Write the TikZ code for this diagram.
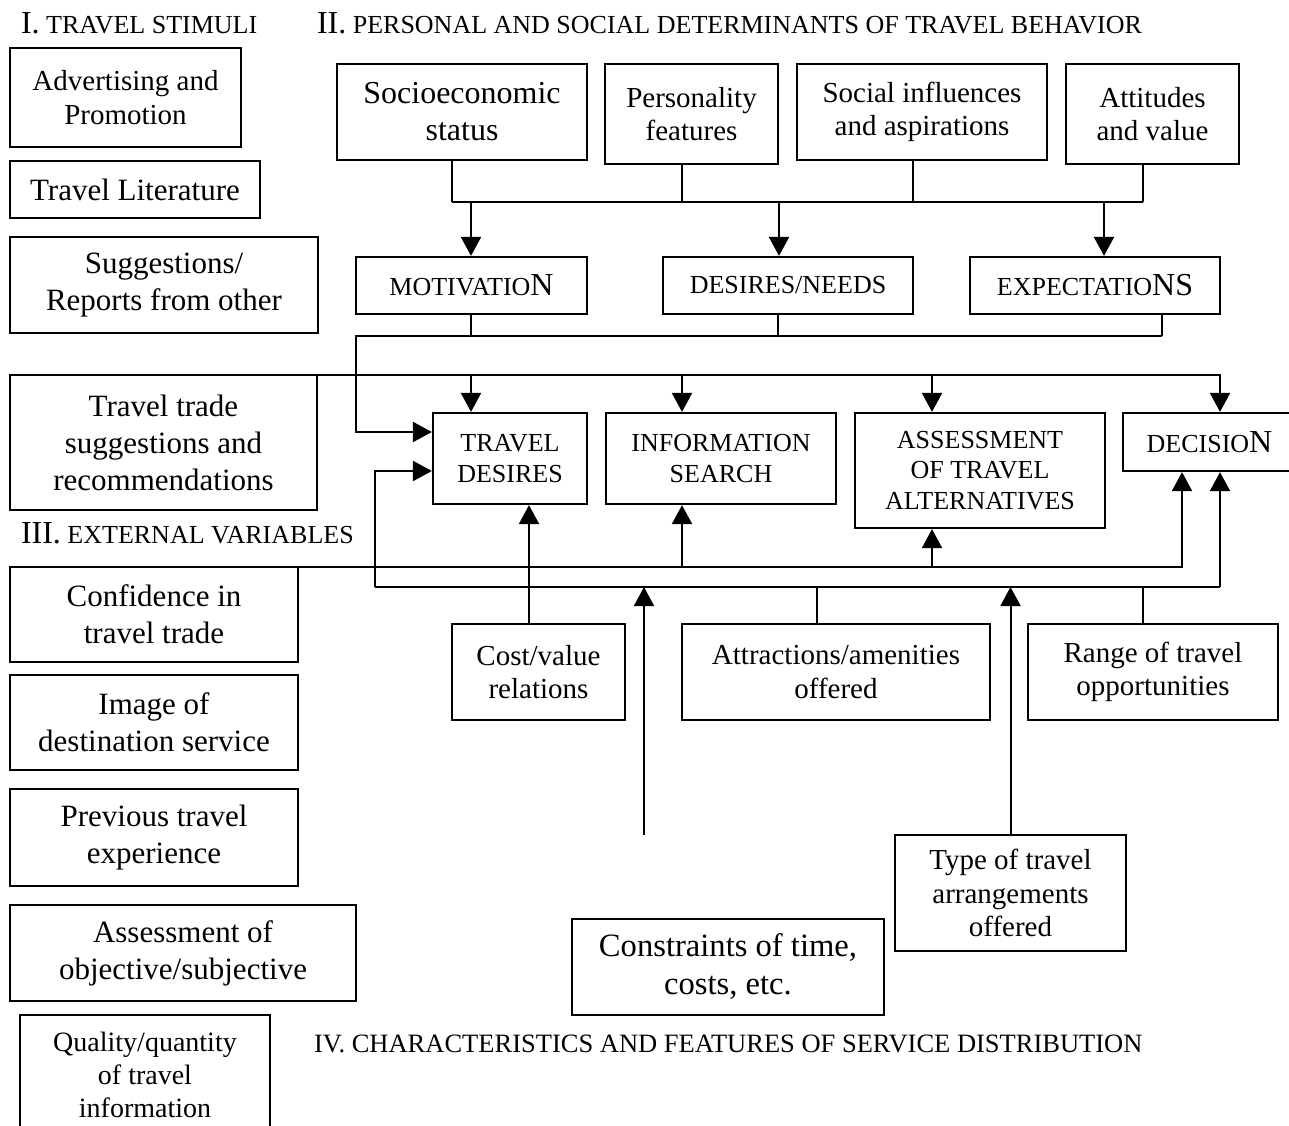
\documentclass[tikz,border=0pt]{standalone}
\usepackage{fontspec}
\setmainfont{Liberation Serif}
\usetikzlibrary{arrows.meta}
\newcommand\fsz[2]{\fontsize{#1}{#2}\selectfont}
\newcommand\capbig[1]{{\fsz{16}{18}#1}}
\tikzset{
  box/.style={draw,line width=1.1pt,align=center,inner sep=0pt},
  bigtxt/.style={font=\fsz{15.5}{18.5}},
  midtxt/.style={font=\fsz{14.5}{16.8}},
  captxt/.style={font=\fsz{13}{15.2}},
  head/.style={anchor=base west,inner sep=0pt,font=\fsz{13}{15}},
}
\begin{document}
\begin{tikzpicture}[x=0.5pt,y=-0.5pt,line width=1pt,>={Triangle[length=9.5pt,width=10pt]}]
  \useasboundingbox[fill=white] (0,0) rectangle (1289,1125);
  % headings
  \node[head] (hI) at (20,33) {\capbig{I.} TRAVEL STIMULI};
  \node[head] (hII) at (316,33) {\capbig{II.} PERSONAL AND SOCIAL DETERMINANTS OF TRAVEL BEHAVIOR};
  \node[head] (hIII) at (20,543) {\capbig{III.} EXTERNAL VARIABLES};
  \node[head,font=\fsz{13.25}{15}] (hIV) at (313,1052) {IV. CHARACTERISTICS AND FEATURES OF SERVICE DISTRIBUTION};
  % I. travel stimuli
  \node[box,midtxt,minimum width=115.5pt,minimum height=49.5pt] (adv) at (125.5,97.5) {Advertising and\\Promotion};
  \node[box,bigtxt,minimum width=125pt,minimum height=28.5pt] (lit) at (135,189.5) {Travel Literature};
  \node[box,bigtxt,minimum width=154pt,minimum height=48pt] (sugg) at (164,285) {Suggestions/\\Reports from other};
  \node[box,bigtxt,minimum width=153.5pt,minimum height=67.5pt] (trade) at (163.5,442.5) {Travel trade\\suggestions and\\recommendations};
  % III. external variables
  \node[box,bigtxt,minimum width=144pt,minimum height=47.5pt] (conf) at (154,614.5) {Confidence in\\travel trade};
  \node[box,bigtxt,minimum width=144pt,minimum height=47.5pt] (img) at (154,722.5) {Image of\\destination service};
  \node[box,bigtxt,minimum width=144pt,minimum height=48.5pt] (prev) at (154,837.5) {Previous travel\\experience};
  \node[box,bigtxt,minimum width=173pt,minimum height=48pt] (assess) at (183,953) {Assessment of\\objective/subjective};
  \node[box,font=\fsz{14}{16.6},minimum width=125pt,minimum height=60pt] (qual) at (145,1075) {Quality/quantity\\of travel\\information};
  % II. personal and social determinants
  \node[box,font=\fsz{16}{18.5},minimum width=125pt,minimum height=48pt] (socio) at (462,112) {Socioeconomic\\status};
  \node[box,midtxt,minimum width=86.5pt,minimum height=50pt] (pers) at (691.5,114) {Personality\\features};
  \node[box,midtxt,minimum width=125pt,minimum height=48pt] (social) at (922,112) {Social influences\\and aspirations};
  \node[box,midtxt,minimum width=86.5pt,minimum height=50pt] (attit) at (1152.5,114) {Attitudes\\and value};
  \node[box,captxt,minimum width=115.5pt,minimum height=28.5pt] (motiv) at (471.5,285.5) {MOTIVATIO\capbig{N}};
  \node[box,captxt,minimum width=125pt,minimum height=28.5pt] (desire) at (788,285.5) {DESIRES/NEEDS};
  \node[box,captxt,minimum width=125pt,minimum height=28.5pt] (expect) at (1095,285.5) {EXPECTATIO\capbig{NS}};
  % decision process
  \node[box,captxt,minimum width=77pt,minimum height=45.5pt] (tdes) at (510,458.5) {TRAVEL\\DESIRES};
  \node[box,captxt,minimum width=115pt,minimum height=45.5pt] (info) at (721,458.5) {INFORMATION\\SEARCH};
  \node[box,captxt,minimum width=125pt,minimum height=57.5pt] (alt) at (980,470.5) {ASSESSMENT\\OF TRAVEL\\ALTERNATIVES};
  \node[box,captxt,minimum width=86.5pt,minimum height=29pt] (dec) at (1209.5,442) {DECISIO\capbig{N}};
  % IV. service distribution
  \node[box,midtxt,minimum width=86.5pt,minimum height=48pt] (cost) at (538.5,672) {Cost/value\\relations};
  \node[box,midtxt,minimum width=154pt,minimum height=48pt] (attr) at (836,672) {Attractions/amenities\\offered};
  \node[box,midtxt,minimum width=125pt,minimum height=48pt] (range) at (1153,672) {Range of travel\\opportunities};
  \node[box,midtxt,minimum width=115.5pt,minimum height=58pt] (type) at (1010.5,893) {Type of travel\\arrangements\\offered};
  \node[box,font=\fsz{16.3}{19},minimum width=156pt,minimum height=48pt] (constr) at (728,967) {Constraints of time,\\costs, etc.};
  % determinants -> motivation, desires, expectations
  \coordinate (pb1) at (452,202);
  \coordinate (pb4) at (1143,202);
  \draw (pb1) -- (pb4);
  \foreach \n/\x in {socio/452,pers/682,social/913,attit/1143}
    \draw (\n.south -| \x,0) -- (\x,0 |- pb1);
  \foreach \n/\x in {motiv/471,desire/779,expect/1104}
    \draw[->] (\x,0 |- pb1) -- (\n.north -| \x,0);
  % motivation etc. -> travel desires
  \coordinate (mb1) at (356,336);
  \coordinate (mb4) at (1162,336);
  \foreach \n/\x in {motiv/471,desire/778,expect/1162}
    \draw (\n.south -| \x,0) -- (\x,0 |- mb1);
  \draw[->] (mb4) -- (mb1) |- (tdes.west |- 0,432);
  % travel stimuli line
  \coordinate (tb4) at (1220,375);
  \draw[->] (trade.east |- tb4) -- (tb4) -- (tb4 |- dec.north);
  \foreach \n/\x in {tdes/471,info/682,alt/932}
    \draw[->] (\x,0 |- tb4) -- (\n.north -| \x,0);
  % external variables line
  \coordinate (eb4) at (1182,567);
  \draw[->] (conf.east |- eb4) -- (eb4) -- (eb4 |- dec.south);
  \foreach \n/\x in {info/682,alt/932}
    \draw[->] (\x,0 |- eb4) -- (\n.south -| \x,0);
  \draw[->] (cost.north -| 529,0) -- (tdes.south -| 529,0);
  % service distribution line
  \coordinate (db1) at (375,587);
  \coordinate (db4) at (1220,587);
  \draw (db1) -- (db4);
  \draw[->] (db4) -- (db4 |- dec.south);
  \draw[->] (db1) |- (tdes.west |- 0,471);
  \draw (attr.north -| 817,0) -- (817,0 |- db1);
  \draw (range.north -| 1143,0) -- (1143,0 |- db1);
  \coordinate (free) at (644,835);
  \draw[->] (free) -- (free |- db1);
  \draw[->] (type.north) -- (type.north |- db1);
\end{tikzpicture}
\end{document}
